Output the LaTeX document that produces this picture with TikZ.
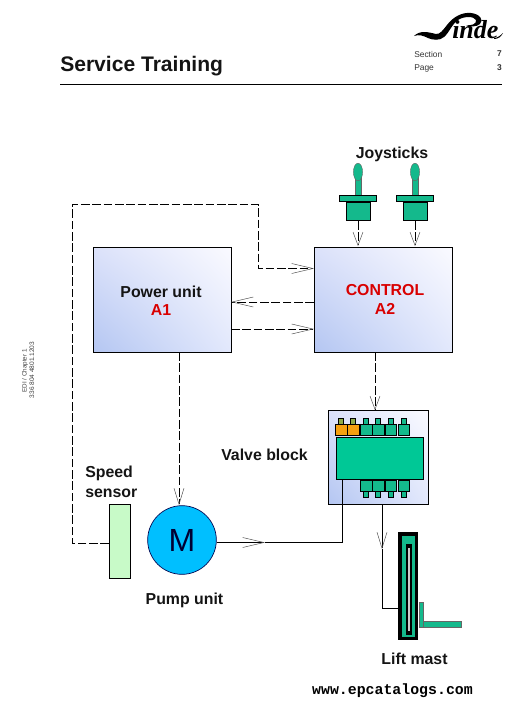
\documentclass[tikz,border=0pt]{standalone}
\usepackage{fontspec}
\setmainfont{Liberation Sans}
\newfontfamily\monof{Liberation Mono}
\newfontfamily\serifb{Liberation Serif}
\usetikzlibrary{arrows.meta,shadings}
\definecolor{vgreen}{HTML}{00C896}
\definecolor{jgreen}{HTML}{14B98C}
\definecolor{vorange}{HTML}{F5A011}
\definecolor{mblue}{HTML}{00BFFF}
\definecolor{sgreen}{HTML}{C8FAC8}
\definecolor{gll}{HTML}{B4C6F2}
\definecolor{gul}{HTML}{DCE2FA}
\definecolor{gur}{HTML}{FAFAFF}
\definecolor{glr}{HTML}{E2E8FC}
\tikzset{
 x=0.75pt,y=-0.75pt,
 openv/.style={-{Straight Barb[length=#1,width=7.5pt,line width=0.35pt,color=black!70]}},
 openv/.default=16pt,
 dashline/.style={draw=black,line width=0.75pt,dash pattern=on 6.5pt off 2pt},
 solidline/.style={draw=black,line width=0.75pt},
 gradbox/.style={draw=black,line width=0.85pt,shade,lower left=gll,upper left=gul,upper right=gur,lower right=glr,anchor=north west,inner sep=0pt},
 lbl/.style={font=\fontsize{11.9pt}{15pt}\selectfont\bfseries,align=center,text=black!92},
 redl/.style={text=red!85!black},
 part/.style={draw=black,line width=0.75pt,fill=#1},
 tiny/.style={font=\fontsize{6.3pt}{7pt}\selectfont,text=black!80},
}
\begin{document}
\begin{tikzpicture}
\useasboundingbox (0,0) rectangle (524,708);
% header
\node[anchor=west,inner sep=0pt,font=\fontsize{15.8pt}{18pt}\selectfont\bfseries,text=black!92] (title) at (60,66.5) {Service Training};
\coordinate (hl) at (60,84); \coordinate (hr) at (502,84);
\draw[line width=0.6pt] (hl) -- (hr);
\node[tiny,anchor=west,inner sep=0pt] (sec) at (414,54) {Section};
\node[tiny,anchor=west,inner sep=0pt] (pg) at (414,68) {Page};
\node[tiny,anchor=east,inner sep=0pt,font=\fontsize{6.3pt}{7pt}\selectfont\bfseries] (s7) at (502,54) {7};
\node[tiny,anchor=east,inner sep=0pt,font=\fontsize{6.3pt}{7pt}\selectfont\bfseries] (p3) at (502,68) {3};
% logo
\node[anchor=base west,inner sep=0pt,font=\serifb\fontsize{19.5pt}{24pt}\selectfont\bfseries\itshape] (logo) at (452,38) {inde};
\fill (414,36) .. controls (420,30) and (428,32) .. (436,34) .. controls (440,34.5) and (443,30) .. (447,25)
 .. controls (453,17) and (462,12) .. (471,13) .. controls (480,14) and (484,20) .. (480,24)
 .. controls (477,27) and (470,27) .. (466,25) .. controls (471,26) and (477,24) .. (476,20)
 .. controls (474,16) and (464,16) .. (458,20) .. controls (452,24) and (449,33) .. (444,37)
 .. controls (440,41) and (432,40) .. (428,38) .. controls (424,36) and (419,34) .. (414,36) -- cycle;
\fill (494,38) .. controls (497,38) and (500,36) .. (503,33) .. controls (501,37) and (498,39) .. (494,39) -- cycle;
% side
\node[rotate=90,inner sep=0pt,font=\fontsize{4.7pt}{5pt}\selectfont,text=black!75] (side1) at (25,371) {EDI / Chapter 1};
\node[rotate=90,inner sep=0pt,font=\fontsize{4.9pt}{5pt}\selectfont,text=black!75] (side2) at (32,370) {336 804 4801.1203};
% boxes
\node[gradbox,minimum width=103.5pt,minimum height=79pt] (a1) at (93,247) {};
\node[gradbox,minimum width=103.5pt,minimum height=79pt] (a2) at (314,247) {};
\node[gradbox,minimum width=75pt,minimum height=70.5pt] (vb) at (328,410) {};
\node[lbl] (t1) at (161,291.5) {Power unit};
\node[lbl,redl] (t1b) at (161,310) {A1};
\node[lbl,redl] (t2) at (385,290) {CONTROL};
\node[lbl,redl] (t2b) at (385,309) {A2};
\node[lbl] (jt) at (392,154) {Joysticks};
\node[lbl] (vt) at (264.5,455) {Valve block};
\node[lbl,align=left,anchor=west,inner sep=0pt] (st) at (85,481.5) {Speed\\sensor};
\node[lbl] (pt) at (184.5,600) {Pump unit};
\node[lbl] (lt) at (414.5,659) {Lift mast};
% motor, sensor
\node[circle,draw=black!70!blue,line width=0.5pt,fill=mblue,minimum size=51.5pt,inner sep=0pt,font=\fontsize{24pt}{26pt}\selectfont,text=black!80!blue] (m) at (182,540) {M};
\node[draw=black,line width=0.6pt,fill=sgreen,minimum width=16pt,minimum height=55.5pt,anchor=north west,inner sep=0pt] (ss) at (109,504) {};
% joysticks
\foreach \n/\cx in {j1/358,j2/415}{
 \fill[jgreen,draw=black!60,line width=0.3pt] (\cx-3,176) rectangle (\cx+3,196);
 \filldraw[jgreen,draw=black!60,line width=0.3pt] (\cx,172) ellipse[x radius=4.6,y radius=8.8];
 \filldraw[part=jgreen] (\cx-18.5,195.5) rectangle (\cx+18.5,201.5);
 \node[part=jgreen,minimum width=18pt,minimum height=13.5pt,anchor=north,inner sep=0pt] (\n) at (\cx,202) {};
}
\coordinate (ja) at (358,246); \coordinate (jb) at (415,246);
\draw[dashline,openv=10pt] (j1.south) -- (ja);
\draw[dashline,openv=10pt] (j2.south) -- (jb);
% valve block parts
\node[part=vgreen,anchor=north west,minimum width=65.5pt,minimum height=31.5pt,inner sep=0pt] (vmain) at (335.5,436.5) {};
\foreach \x/\c/\t in {335.5/vorange/vorange!55!jgreen,347.5/vorange/vorange!55!jgreen,360.5/jgreen/jgreen,372.5/jgreen/jgreen,385/jgreen/jgreen,398/jgreen/jgreen}{
 \filldraw[part=\c] (\x,424) rectangle (\x+11.5,435.5);
 \filldraw[part=\t] (\x+3,418) rectangle (\x+8,424);
}
\foreach \x in {360.5,372.5,385,398}{
 \filldraw[part=jgreen] (\x,480.5) rectangle (\x+11.5,491.5);
 \filldraw[part=jgreen] (\x+3,491.5) rectangle (\x+8,497);
}
% lift mast
\node[draw=none,fill=black,anchor=north west,minimum width=15pt,minimum height=81pt,inner sep=0pt] (mast) at (398,532) {};
\fill[jgreen] (402,536) rectangle (415,637);
\fill[black] (405.5,544) rectangle (412,635);
\fill[black!20] (408.3,548) rectangle (409.7,631);
\filldraw[jgreen,draw=black!60,line width=0.3pt] (418.7,602) rectangle (423.5,627);
\filldraw[jgreen,draw=black!60,line width=0.3pt] (423.5,621.5) rectangle (461.5,627);
% connectors
\coordinate (c1) at (72,543.5);
\coordinate (c2) at (72,204);
\coordinate (c3) at (258,204);
\coordinate (c4) at (258,268.5);
\coordinate (c5) at (314,268.5);
\draw[dashline,openv] (ss.west |- c1) -- (c1) -- (c2) -- (c3) -- (c4) -- (c5);
\coordinate (a2m) at (314,302); \coordinate (a1m) at (231,302);
\draw[dashline,openv] (a2m) -- (a1m);
\coordinate (a1l) at (231,329); \coordinate (a2l) at (314,329);
\draw[dashline,openv] (a1l) -- (a2l);
\coordinate (mt) at (179,505); \coordinate (a1b) at (179,352);
\draw[dashline,openv=12pt] (a1b) -- (mt);
\coordinate (a2b) at (375,352); \coordinate (vt1) at (375,410);
\draw[dashline,openv=10pt] (a2b) -- (vt1);
\coordinate (mr) at (217,542.5); \coordinate (mm) at (265,542.5); \coordinate (vc) at (342,542.5); \coordinate (vm) at (342,478.5);
\draw[solidline,openv] (mr) -- (mm);
\draw[solidline] (mm) -- (vc) -- (vm);
\coordinate (vb1) at (382,504); \coordinate (vb2) at (382,549); \coordinate (vb3) at (382,608); \coordinate (vb4) at (398,608);
\draw[solidline,openv=12pt] (vb1) -- (vb2);
\draw[solidline] (vb2) -- (vb3) -- (vb4);
% footer
\node[inner sep=0pt,font=\monof\fontsize{11.15pt}{13pt}\selectfont\bfseries] (foot) at (392.5,691) {www.epcatalogs.com};
\end{tikzpicture}
\end{document}
